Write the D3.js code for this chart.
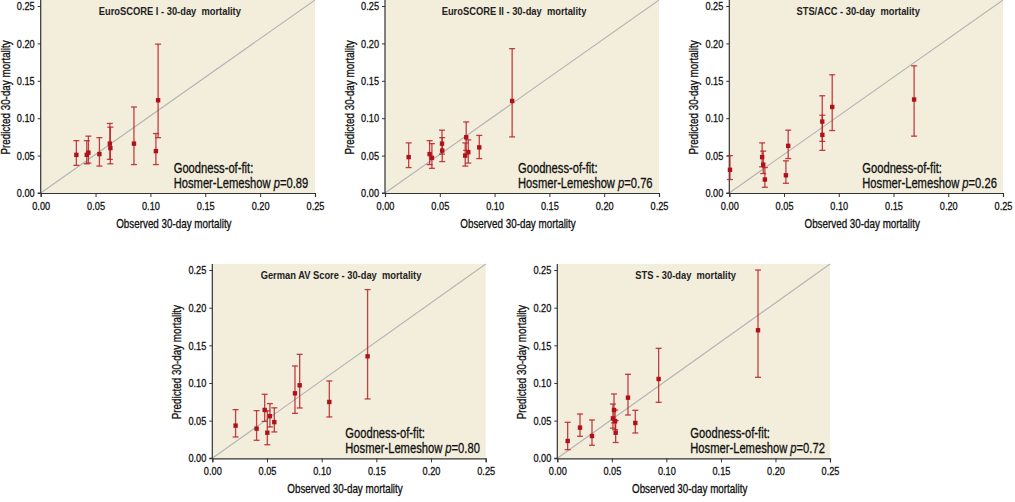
<!DOCTYPE html>
<html>
<head>
<meta charset="utf-8">
<script src="https://cdn.jsdelivr.net/npm/d3@7/dist/d3.min.js"></script>
<style>
  html, body { margin: 0; padding: 0; background: #ffffff; }
  svg { display: block; font-family: "Liberation Sans", Arial, sans-serif; }
  .heavy { stroke: #111; stroke-width: 0.3px; }
</style>
</head>
<body>
<svg id="chart" width="1015" height="502"></svg>
<script>
// ---- Data ----
const titles = [
  "EuroSCORE I - 30-day  mortality",
  "EuroSCORE II - 30-day  mortality",
  "STS/ACC - 30-day  mortality",
  "German AV Score - 30-day  mortality",
  "STS - 30-day  mortality"
];
const pValues = ["0.89", "0.76", "0.26", "0.80", "0.72"];
const tickValues = [0, 0.05, 0.10, 0.15, 0.20, 0.25];
const xAxisTitle = "Observed 30-day mortality";
const yAxisTitle = "Predicted 30-day mortality";

const euro1Obs  = [0.0325, 0.042, 0.0435, 0.0535, 0.063, 0.0635, 0.085, 0.105, 0.107];
const euro1Pred = [0.051, 0.051, 0.054, 0.052, 0.066, 0.060, 0.066, 0.056, 0.124];
const euro1Lo   = [0.037, 0.039, 0.040, 0.036, 0.045, 0.039, 0.038, 0.038, 0.074];
const euro1Hi   = [0.070, 0.070, 0.076, 0.074, 0.093, 0.088, 0.115, 0.0795, 0.199];

const euro2Obs  = [0.0216, 0.0407, 0.0428, 0.052, 0.0522, 0.0732, 0.0741, 0.076, 0.086, 0.116];
const euro2Pred = [0.048, 0.052, 0.047, 0.066, 0.0567, 0.050, 0.0745, 0.0545, 0.061, 0.123];
const euro2Lo   = [0.034, 0.038, 0.033, 0.052, 0.042, 0.036, 0.057, 0.040, 0.046, 0.075];
const euro2Hi   = [0.067, 0.070, 0.066, 0.084, 0.074, 0.067, 0.095, 0.071, 0.077, 0.193];

const stsAccObs  = [0.0006, 0.030, 0.031, 0.0325, 0.0517, 0.0538, 0.0849, 0.085, 0.094, 0.1688];
const stsAccPred = [0.031, 0.048, 0.038, 0.018, 0.0237, 0.063, 0.0955, 0.0777, 0.115, 0.125];
const stsAccLo   = [0.018, 0.035, 0.026, 0.0076, 0.013, 0.046, 0.069, 0.057, 0.0835, 0.076];
const stsAccHi   = [0.050, 0.067, 0.056, 0.034, 0.043, 0.084, 0.130, 0.104, 0.158, 0.170];

const germanObs  = [0.0213, 0.0405, 0.0479, 0.0503, 0.0527, 0.0567, 0.0756, 0.0799, 0.107, 0.142];
const germanPred = [0.0434, 0.0394, 0.0642, 0.034, 0.056, 0.048, 0.0863, 0.0969, 0.0748, 0.1354];
const germanLo   = [0.0283, 0.0239, 0.049, 0.018, 0.0416, 0.035, 0.0597, 0.0668, 0.0549, 0.0788];
const germanHi   = [0.0646, 0.0633, 0.085, 0.063, 0.0726, 0.067, 0.1226, 0.138, 0.1027, 0.224];

const stsObs  = [0.0095, 0.0208, 0.0318, 0.051, 0.052, 0.053, 0.0535, 0.0648, 0.0715, 0.0929, 0.184];
const stsPred = [0.023, 0.0407, 0.0296, 0.053, 0.0641, 0.0495, 0.034, 0.0805, 0.0469, 0.1053, 0.170];
const stsLo   = [0.0115, 0.0292, 0.0173, 0.040, 0.047, 0.038, 0.021, 0.0575, 0.0336, 0.0743, 0.1075];
const stsHi   = [0.0478, 0.0588, 0.0509, 0.072, 0.0854, 0.064, 0.050, 0.1115, 0.0637, 0.146, 0.250];

const seriesObs  = [euro1Obs, euro2Obs, stsAccObs, germanObs, stsObs];
const seriesPred = [euro1Pred, euro2Pred, stsAccPred, germanPred, stsPred];
const seriesLo   = [euro1Lo, euro2Lo, stsAccLo, germanLo, stsLo];
const seriesHi   = [euro1Hi, euro2Hi, stsAccHi, germanHi, stsHi];

// ---- Layout (panel plot rectangles) ----
const layout = [
  { left: 40.7,  right: 315,   top: 6,   bottom: 193 },
  { left: 385,   right: 659,   top: 6,   bottom: 193 },
  { left: 729.3, right: 1003,  top: 6,   bottom: 193 },
  { left: 212.3, right: 485.7, top: 270, bottom: 458.3 },
  { left: 557.3, right: 830,   top: 270, bottom: 458.3 }
];

const NARROW = 0.82;   // horizontal compression to mimic a condensed face
const svg = d3.select("#chart");
const fmt = d3.format(".2f");
const markColor = "#b0121a";
const barColor = "#b82127";

// text helper: condensed text anchored at (x, y)
function ctext(parent, x, y, opts) {
  const sx = opts.sx || NARROW;
  const g = parent.append("g")
    .attr("transform", `translate(${x},${y})${opts.rotate ? " rotate(" + opts.rotate + ")" : ""} scale(${sx},1)`);
  const t = g.append("text")
    .attr("class", opts.heavy ? "heavy" : null)
    .attr("text-anchor", opts.anchor || "start")
    .style("font-size", opts.size + "px")
    .style("font-weight", opts.weight || "normal")
    .style("white-space", "pre")
    .attr("fill", opts.fill || "#111");
  return t;
}

layout.forEach((L, i) => {
  const x = d3.scaleLinear().domain([0, 0.25]).range([L.left, L.right]);
  const y = d3.scaleLinear().domain([0, 0.25]).range([L.bottom, L.top]);
  const g = svg.append("g");
  const bgTop = L.top - 6;

  // background
  g.append("rect")
    .attr("x", L.left).attr("y", bgTop)
    .attr("width", L.right - L.left).attr("height", L.bottom - bgTop)
    .attr("fill", "#f3eedc");

  // identity line
  g.append("line")
    .attr("x1", x(0)).attr("y1", y(0))
    .attr("x2", x(0.25)).attr("y2", bgTop)
    .attr("stroke", "#b3b3b3").attr("stroke-width", 1.1);

  // axes
  const xAxis = d3.axisBottom(x).tickValues(tickValues).tickFormat(fmt).tickSize(4).tickPadding(5);
  const yAxis = d3.axisLeft(y).tickValues(tickValues).tickFormat(fmt).tickSize(3).tickPadding(3);
  const gx = g.append("g").attr("transform", `translate(0,${L.bottom})`).call(xAxis);
  const gy = g.append("g").attr("transform", `translate(${L.left},0)`).call(yAxis);
  [gx, gy].forEach(a => {
    a.selectAll("path.domain").attr("stroke", "#333").attr("stroke-width", 1.2);
    a.selectAll(".tick line").attr("stroke", "#333");
    a.selectAll(".tick text").attr("fill", "#111").attr("class", "heavy")
      .style("font-size", "11.5px")
      .style("font-family", "inherit")
      .each(function () {
        const el = d3.select(this);
        const xv = +el.attr("x") || 0;
        el.attr("x", xv / 0.8).attr("transform", `scale(0.8,1)`);
      });
  });
  // extend y axis line to top of background
  gy.select("path.domain").attr("d", `M-3,${L.bottom}H0V${bgTop}`);

  // error bars + points
  const obs = seriesObs[i], pred = seriesPred[i], lo = seriesLo[i], hi = seriesHi[i];
  const pts = obs.map((o, k) => ({ o, p: pred[k], lo: lo[k], hi: hi[k] }));
  const eb = g.append("g").attr("stroke", barColor).attr("stroke-width", 1.3).attr("stroke-opacity", 0.85);
  pts.forEach(d => {
    eb.append("line").attr("x1", x(d.o)).attr("x2", x(d.o)).attr("y1", y(d.lo)).attr("y2", y(d.hi));
    eb.append("line").attr("x1", x(d.o) - 3).attr("x2", x(d.o) + 3).attr("y1", y(d.lo)).attr("y2", y(d.lo));
    eb.append("line").attr("x1", x(d.o) - 3).attr("x2", x(d.o) + 3).attr("y1", y(d.hi)).attr("y2", y(d.hi));
  });
  g.append("g").selectAll("rect").data(pts).join("rect")
    .attr("x", d => x(d.o) - 2.2).attr("y", d => y(d.p) - 2.2)
    .attr("width", 4.4).attr("height", 4.4)
    .attr("fill", markColor);

  // title
  ctext(g, (L.left + L.right) / 2 - 8, L.top + 8.5, { anchor: "middle", size: 11, weight: "bold", sx: 0.85, fill: "#222" })
    .text(titles[i]);

  // goodness-of-fit
  ctext(g, L.left + 133, L.bottom - 20.5, { size: 14, sx: 0.8, heavy: true }).text("Goodness-of-fit:");
  const t2 = ctext(g, L.left + 133, L.bottom - 5.5, { size: 14, sx: 0.8, heavy: true });
  t2.append("tspan").text("Hosmer-Lemeshow ");
  t2.append("tspan").style("font-style", "italic").text("p");
  t2.append("tspan").text("=" + pValues[i]);

  // axis titles
  ctext(g, (L.left + L.right) / 2 - 4, L.bottom + 35, { anchor: "middle", size: 12, heavy: true }).text(xAxisTitle);
  ctext(g, L.left - 31, (L.top + L.bottom) / 2 - 2, { anchor: "middle", size: 12, rotate: -90, heavy: true }).text(yAxisTitle);
});
</script>
</body>
</html>
